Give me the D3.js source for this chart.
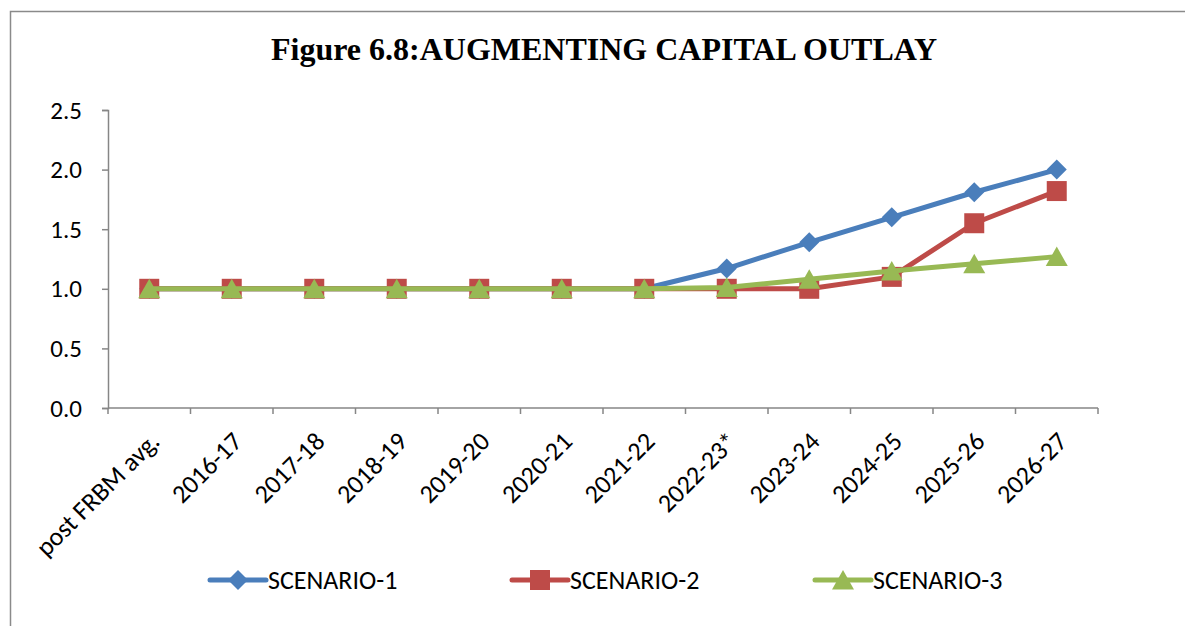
<!DOCTYPE html>
<html><head><meta charset="utf-8">
<script src="https://cdn.jsdelivr.net/npm/d3@7"></script>
<style>body{margin:0;background:#fff}svg{display:block}</style>
</head><body>
<script>
const categories = ["post FRBM avg.","2016-17","2017-18","2018-19","2019-20","2020-21","2021-22","2022-23*","2023-24","2024-25","2025-26","2026-27"];
const scenario1 = [1,1,1,1,1,1,1,1.17,1.39,1.6,1.81,2.0];
const scenario2 = [1,1,1,1,1,1,1,1.0,1.0,1.1,1.55,1.82];
const scenario3 = [1,1,1,1,1,1,1,1.01,1.08,1.15,1.21,1.27];
const yTicks = [0,0.5,1.0,1.5,2.0,2.5];
const seriesNames = ["SCENARIO-1","SCENARIO-2","SCENARIO-3"];
const title = "Figure 6.8:AUGMENTING CAPITAL OUTLAY";

const W=1185,H=626;
const svg=d3.select("body").append("svg").attr("width",W).attr("height",H);
svg.append("path").attr("d","M10.5,626 L10.5,11.5 L1185,11.5").attr("fill","none").attr("stroke","#8a8a8a").attr("stroke-width",1.5);

svg.append("text").attr("x",604).attr("y",60).attr("text-anchor","middle")
  .attr("font-family","Liberation Serif, Times New Roman, serif").attr("font-weight","bold").attr("font-size",32)
  .text(title);

const x=d3.scaleBand().domain(categories).range([108,1098]);
const y=d3.scaleLinear().domain([0,2.5]).range([408,110]);
const axisColor="#868686";
const font="Carlito, Lato, Open Sans, sans-serif";

const ya=svg.append("g").attr("transform","translate(108,0)").call(d3.axisLeft(y).tickValues(yTicks).tickFormat(d3.format(".1f")).tickSize(6).tickPadding(20));
ya.selectAll("path,line").attr("stroke",axisColor).attr("stroke-width",1.5);
ya.selectAll("text").attr("font-family",font).attr("font-size",25).attr("fill","#000");

const xa=svg.append("g").attr("transform","translate(0,408)").call(d3.axisBottom(x).tickSize(0).tickSizeOuter(0));
xa.select("path").attr("stroke",axisColor).attr("stroke-width",1.5).attr("d","M108,0H1098");
xa.selectAll(".tick line").remove();
xa.selectAll(".tick text").attr("font-family",font).attr("font-size",26).attr("fill","#000")
  .attr("text-anchor","end").attr("dy",0).attr("y",0)
  .attr("transform","translate(12,35) rotate(-45)");
const bounds=categories.map(c=>x(c)).concat([1098]);
svg.append("g").selectAll("line").data(bounds).join("line")
  .attr("x1",d=>d).attr("x2",d=>d).attr("y1",408).attr("y2",414)
  .attr("stroke",axisColor).attr("stroke-width",1.5);

const colors=["#4a7ebb","#be4b48","#98b954"];
const data=[scenario1,scenario2,scenario3];
const cx=(i)=>x(categories[i])+x.bandwidth()/2;
const line=d3.line().x((d,i)=>cx(i)).y(d=>y(d));
const markerPaths=[
  "M0,-10L10,0L0,10L-10,0Z",
  "M-10,-10H10V10H-10Z",
  "M0,-10L11,9.5H-11Z"
];

data.forEach((s,k)=>{
  svg.append("path").datum(s).attr("d",line).attr("fill","none").attr("stroke",colors[k]).attr("stroke-width",5).attr("stroke-linejoin","round");
  svg.append("g").selectAll("path").data(s).join("path")
    .attr("transform",(d,i)=>`translate(${cx(i)},${y(d)})`)
    .attr("d",markerPaths[k]).attr("fill",colors[k]);
});

const legX=[210,512,815];
seriesNames.forEach((n,k)=>{
  const g=svg.append("g").attr("transform",`translate(${legX[k]},580)`);
  g.append("line").attr("x1",0).attr("x2",56).attr("stroke",colors[k]).attr("stroke-width",5).attr("stroke-linecap","round");
  g.append("path").attr("transform","translate(28,0)").attr("d",markerPaths[k]).attr("fill",colors[k]);
  g.append("text").attr("x",58).attr("y",9).attr("font-family",font).attr("font-size",26).text(n);
});
</script>
</body></html>
